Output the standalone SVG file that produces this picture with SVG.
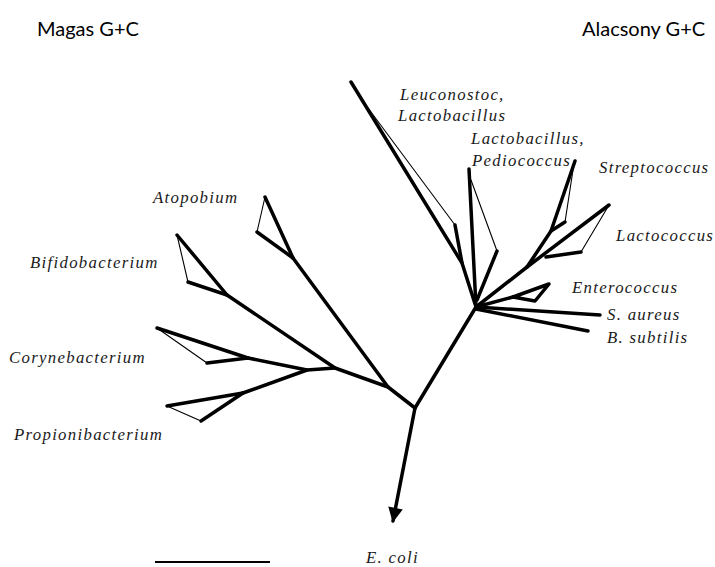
<svg xmlns="http://www.w3.org/2000/svg" width="715" height="567" viewBox="0 0 715 567">
<defs>
<style>
.thick{stroke:#000;stroke-width:3.5;fill:none;stroke-linejoin:round;stroke-linecap:round}
.thin{stroke:#000;stroke-width:1.1;fill:none;stroke-linecap:round}
.lbl{font-family:"Liberation Serif","Times New Roman",serif;font-style:italic;font-size:16.8px;letter-spacing:1.3px;fill:#1a1a1a}
.hdr{font-family:Lato,"Liberation Sans",sans-serif;font-size:20px;fill:#000}
</style>
<marker id="arrow" viewBox="0 0 10 10" refX="9" refY="5" markerWidth="5.2" markerHeight="4.2" orient="auto" markerUnits="strokeWidth">
<path d="M0,0 L10,5 L0,10 Z" fill="#000"/>
</marker>
</defs>
<rect width="715" height="567" fill="#fff"/>

<text class="hdr" x="37" y="36">Magas G+C</text>
<text class="hdr" x="582" y="36">Alacsony G+C</text>

<g id="connectors">
<polyline class="thick" points="415,408 476,307"/>
<line class="thick" x1="415" y1="408" x2="393" y2="521" marker-end="url(#arrow)"/>
<polyline class="thick" points="415,408 388,387 293,258"/>
<polyline class="thick" points="388,387 335,368 227,295"/>
<polyline class="thick" points="335,368 307,370 248,358"/>
<polyline class="thick" points="307,370 243,393"/>
<polyline class="thick" points="476,307 527,267"/>
<polyline class="thick" points="476,307 513,297"/>
<polyline class="thick" points="476,307 600,315"/>
<polyline class="thick" points="476,309 588,331"/>
</g>

<g id="atopobium">
<polyline class="thick" points="293,258 265,197"/>
<line class="thin" x1="265" y1="197" x2="257" y2="232"/>
<polyline class="thick" points="257,232 293,258"/>
<text class="lbl" x="153" y="203">Atopobium</text>
</g>

<g id="bifidobacterium">
<polyline class="thick" points="227,295 177,235"/>
<line class="thin" x1="177" y1="235" x2="188" y2="282"/>
<polyline class="thick" points="188,282 227,295"/>
<text class="lbl" x="30" y="268">Bifidobacterium</text>
</g>

<g id="corynebacterium">
<polyline class="thick" points="248,358 157,328"/>
<line class="thin" x1="157" y1="328" x2="207" y2="363"/>
<polyline class="thick" points="207,363 248,358"/>
<text class="lbl" x="9" y="363">Corynebacterium</text>
</g>

<g id="propionibacterium">
<polyline class="thick" points="243,393 167,406"/>
<line class="thin" x1="167" y1="406" x2="201" y2="421"/>
<polyline class="thick" points="201,421 243,393"/>
<text class="lbl" x="14" y="440">Propionibacterium</text>
</g>

<g id="leuconostoc">
<polyline class="thick" points="476,307 462,263 351,82"/>
<line class="thin" x1="368" y1="108" x2="455" y2="225"/>
<polyline class="thick" points="455,225 462,263"/>
<text class="lbl" x="400" y="100">Leuconostoc,</text>
<text class="lbl" x="398" y="121">Lactobacillus</text>
</g>

<g id="lactobacillus-pediococcus">
<polyline class="thick" points="476,307 469,169"/>
<line class="thin" x1="471" y1="180" x2="497" y2="251"/>
<polyline class="thick" points="497,251 477,300"/>
<text class="lbl" x="471" y="144">Lactobacillus,</text>
<text class="lbl" x="472" y="166">Pediococcus</text>
</g>

<g id="streptococcus">
<polyline class="thick" points="527,267 551,231 575,161"/>
<line class="thin" x1="573" y1="170" x2="565" y2="222"/>
<polyline class="thick" points="565,222 551,231"/>
<text class="lbl" x="599" y="173">Streptococcus</text>
</g>

<g id="lactococcus">
<polyline class="thick" points="527,267 609,205"/>
<line class="thin" x1="609" y1="205" x2="581" y2="252"/>
<polyline class="thick" points="581,252 546,257"/>
<text class="lbl" x="616" y="241">Lactococcus</text>
</g>

<g id="enterococcus">
<polygon class="thick" points="513,297 549,284 535,301"/>
<text class="lbl" x="572" y="293">Enterococcus</text>
</g>

<g id="s-aureus">
<text class="lbl" x="607" y="320">S. aureus</text>
</g>

<g id="b-subtilis">
<text class="lbl" x="607" y="343">B. subtilis</text>
</g>

<g id="e-coli">
<text class="lbl" x="366" y="563">E. coli</text>
</g>

<g id="scale">
<line x1="155" y1="562" x2="270" y2="562" stroke="#000" stroke-width="2"/>
</g>
</svg>
